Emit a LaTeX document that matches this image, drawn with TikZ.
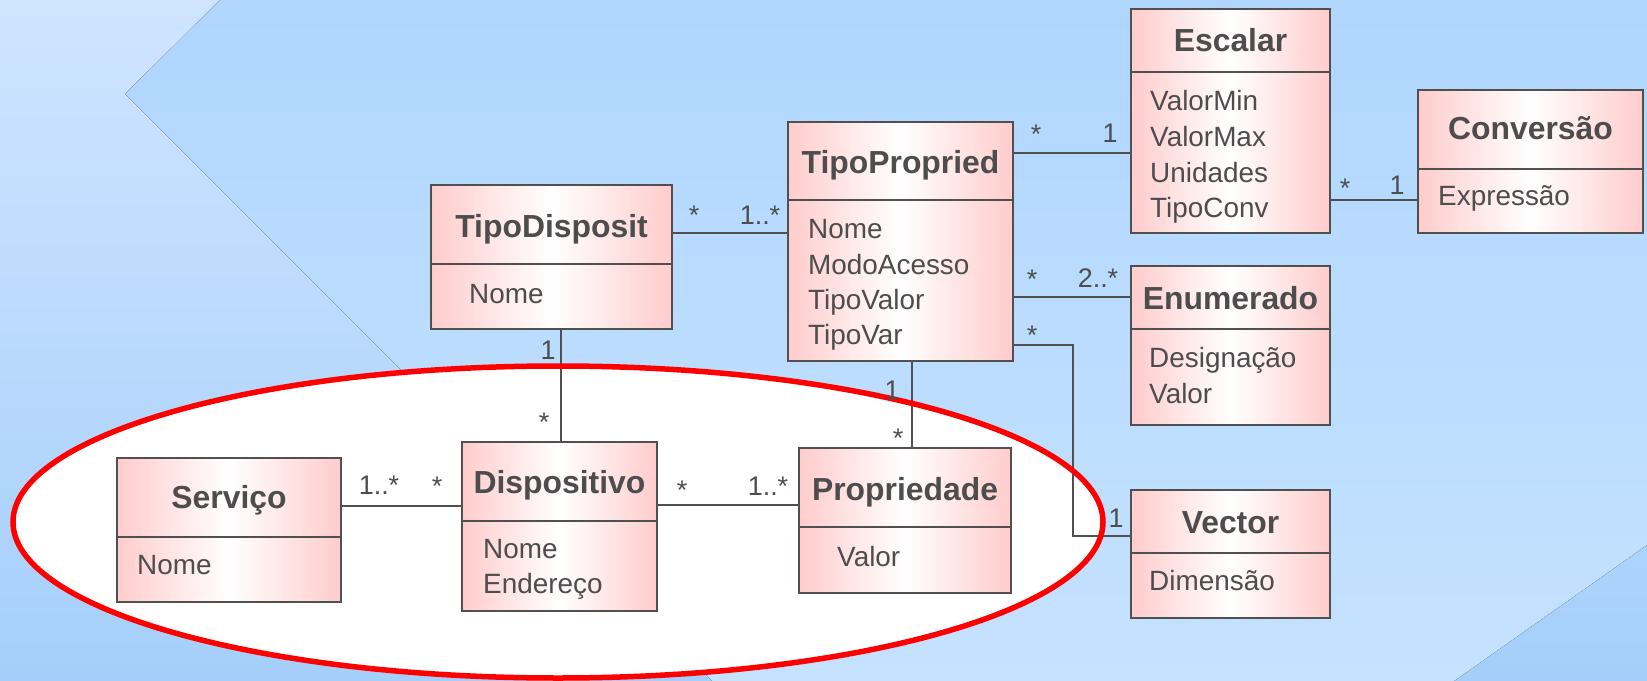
\documentclass[tikz,border=0pt]{standalone}
\usepackage{fontspec}
\setmainfont{Liberation Sans}
\definecolor{boxpink}{RGB}{255,204,204}
\definecolor{linegray}{RGB}{80,80,80}
\definecolor{txtgray}{RGB}{77,77,77}
\definecolor{bgtop}{RGB}{208,228,255}
\definecolor{bgbot}{RGB}{164,207,250}
\definecolor{chtop}{RGB}{176,214,254}
\definecolor{chbot}{RGB}{197,226,254}
\definecolor{ellred}{RGB}{255,0,0}
\tikzset{
  classbox/.style={draw=linegray, line width=2bp, left color=boxpink, right color=boxpink, middle color=white, inner sep=0pt, anchor=north west},
  divline/.style={draw=linegray, line width=2bp},
  ctitle/.style={font=\fontsize{32}{38}\selectfont\bfseries, text=txtgray, anchor=base, inner sep=0pt},
  cattr/.style={font=\fontsize{28}{34}\selectfont, text=txtgray, anchor=base west, inner sep=0pt},
  mult/.style={font=\fontsize{27}{32}\selectfont, text=txtgray, anchor=base, inner sep=0pt},
  assoc/.style={draw=linegray, line width=2bp},
}
\begin{document}
\begin{tikzpicture}[x=1bp,y=-1bp]
\useasboundingbox (0,0) rectangle (1647,681);
% background
\fill[top color=bgtop, bottom color=bgbot] (0,0) rectangle (1647,681);
\fill[top color=chtop, bottom color=chbot] (220,0) -- (1647,0) -- (1647,545) -- (1454,681) -- (712,681) -- (125,94) -- cycle;
% ellipse fill
\fill[white] (558,522) ellipse [x radius=545, y radius=156];

% class boxes
\node[classbox, minimum width=241bp, minimum height=144bp] (td) at (430,184) {};
\node[classbox, minimum width=225bp, minimum height=239bp] (tp) at (787,121) {};
\node[classbox, minimum width=199bp, minimum height=224bp] (esc) at (1130,8) {};
\node[classbox, minimum width=225bp, minimum height=143bp] (conv) at (1417,89) {};
\node[classbox, minimum width=199bp, minimum height=159bp] (enum) at (1130,265) {};
\node[classbox, minimum width=199bp, minimum height=128bp] (vec) at (1130,489) {};
\node[classbox, minimum width=224bp, minimum height=144bp] (serv) at (116,457) {};
\node[classbox, minimum width=195bp, minimum height=169bp] (disp) at (461,441) {};
\node[classbox, minimum width=212bp, minimum height=145bp] (prop) at (798,447) {};

% dividers
\draw[divline] (td.west |- 0,264) -- (td.east |- 0,264);
\draw[divline] (tp.west |- 0,200) -- (tp.east |- 0,200);
\draw[divline] (esc.west |- 0,72) -- (esc.east |- 0,72);
\draw[divline] (conv.west |- 0,169) -- (conv.east |- 0,169);
\draw[divline] (enum.west |- 0,329) -- (enum.east |- 0,329);
\draw[divline] (vec.west |- 0,553) -- (vec.east |- 0,553);
\draw[divline] (serv.west |- 0,537) -- (serv.east |- 0,537);
\draw[divline] (disp.west |- 0,521) -- (disp.east |- 0,521);
\draw[divline] (prop.west |- 0,527) -- (prop.east |- 0,527);

% connectors
\coordinate (vbend) at (1073,345);
\draw[assoc] (td.east |- 0,233) -- (tp.west |- 0,233);
\draw[assoc] (tp.east |- 0,153) -- (esc.west |- 0,153);
\draw[assoc] (esc.east |- 0,200) -- (conv.west |- 0,200);
\draw[assoc] (tp.east |- 0,297) -- (enum.west |- 0,297);
\draw[assoc] (tp.east |- vbend) -- (vbend) |- (vec.west |- 0,536);
\draw[assoc] (td.south -| 561,0) -- (disp.north -| 561,0);
\draw[assoc] (tp.south -| 912,0) -- (prop.north -| 912,0);
\draw[assoc] (serv.east |- 0,506) -- (disp.west |- 0,506);
\draw[assoc] (disp.east |- 0,505) -- (prop.west |- 0,505);

% ellipse outline
\draw[ellred, line width=5.5bp] (558,522) ellipse [x radius=545, y radius=156];

% titles
\node[ctitle] (td-t) at (td.north |- 0,237) {TipoDisposit};
\node[ctitle] (tp-t) at (tp.north |- 0,173) {TipoPropried};
\node[ctitle] (esc-t) at (esc.north |- 0,52) {Escalar};
\node[ctitle] (conv-t) at (conv.north |- 0,140) {Conversão};
\node[ctitle] (enum-t) at (enum.north |- 0,309) {Enumerado};
\node[ctitle] (vec-t) at (vec.north |- 0,533) {Vector};
\node[ctitle] (serv-t) at (serv.north |- 0,508) {Serviço};
\node[ctitle] (disp-t) at (disp.north |- 0,493) {Dispositivo};
\node[ctitle] (prop-t) at (prop.north |- 0,500) {Propriedade};

% attributes
\node[cattr] (td-a1) at (469,303) {Nome};
\node[cattr] (tp-a1) at (808,238) {Nome};
\node[cattr] (tp-a2) at (808,274) {ModoAcesso};
\node[cattr] (tp-a3) at (808,309) {TipoValor};
\node[cattr] (tp-a4) at (808,344) {TipoVar};
\node[cattr] (esc-a1) at (1150,111) {ValorMin};
\node[cattr] (esc-a2) at (1150,147) {ValorMax};
\node[cattr] (esc-a3) at (1150,182) {Unidades};
\node[cattr] (esc-a4) at (1150,217) {TipoConv};
\node[cattr] (conv-a1) at (1438,205) {Expressão};
\node[cattr] (enum-a1) at (1149,367) {Designação};
\node[cattr] (enum-a2) at (1149,403) {Valor};
\node[cattr] (vec-a1) at (1149,590) {Dimensão};
\node[cattr] (serv-a1) at (137,574) {Nome};
\node[cattr] (disp-a1) at (483,558) {Nome};
\node[cattr] (disp-a2) at (483,593) {Endereço};
\node[cattr] (prop-a1) at (837,566) {Valor};

% multiplicities
\node[mult] (m1a) at (694,224) {*};
\node[mult] (m1b) at (760,224) {1..*};
\node[mult] (m2a) at (1036,144) {*};
\node[mult] (m2b) at (1110,143) {1};
\node[mult] (m3a) at (1345,197) {*};
\node[mult] (m3b) at (1397,194) {1};
\node[mult] (m4a) at (1032,288) {*};
\node[mult] (m4b) at (1098,287) {2..*};
\node[mult] (m5a) at (1032,344) {*};
\node[mult] (m5b) at (1116,527) {1};
\node[mult] (m6a) at (548,359) {1};
\node[mult] (m6b) at (544,431) {*};
\node[mult] (m7a) at (892,399) {1};
\node[mult] (m7b) at (898,447) {*};
\node[mult] (m8a) at (379,494) {1..*};
\node[mult] (m8b) at (437,495) {*};
\node[mult] (m9a) at (682,499) {*};
\node[mult] (m9b) at (768,495) {1..*};
\end{tikzpicture}
\end{document}
